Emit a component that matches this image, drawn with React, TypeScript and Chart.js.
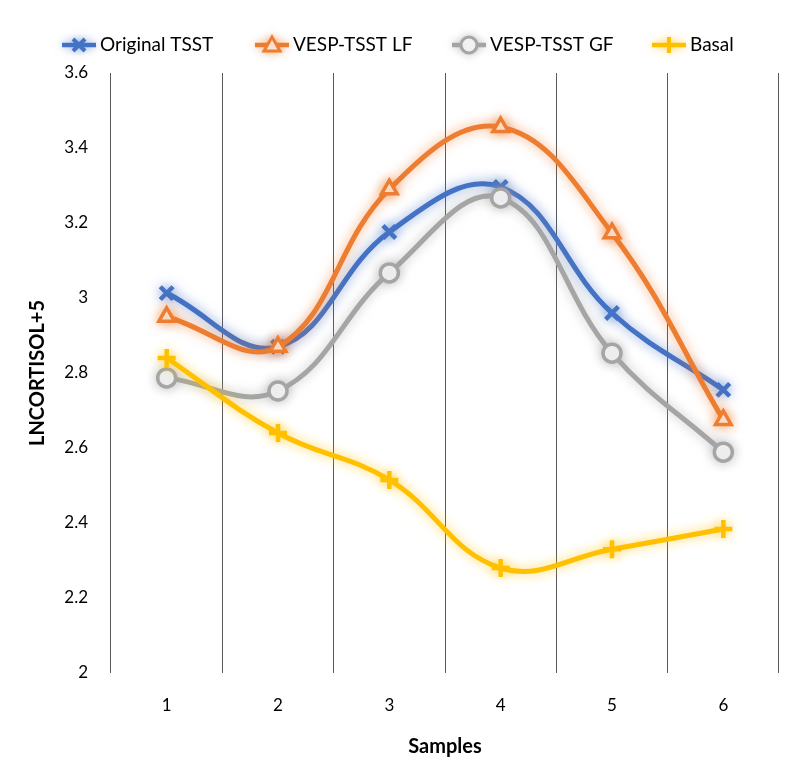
import React, { useEffect, useRef } from "react";
import { Chart, registerables } from "chart.js";

Chart.register(...registerables);

const categories = ["1", "2", "3", "4", "5", "6"];
const originalTSST = [3.013, 2.87, 3.176, 3.296, 2.96, 2.755];
const vespLF = [2.95, 2.87, 3.29, 3.456, 3.173, 2.675];
const vespGF = [2.787, 2.752, 3.067, 3.267, 2.853, 2.589];
const basal = [2.84, 2.64, 2.515, 2.28, 2.33, 2.384];
const seriesNames = ["Original TSST", "VESP-TSST LF", "VESP-TSST GF", "Basal"];
const colors = ["#4472C4", "#ED7D31", "#A5A5A5", "#FFC000"];
const pointStyles = ["crossRot", "triangle", "circle", "cross"];

const FONT = "Lato, 'Open Sans', sans-serif";

const glowPlugin = {
  id: "glow",
  beforeDatasetDraw(chart: any, args: any) {
    const ctx = chart.ctx;
    ctx.save();
    const c = colors[args.index];
    ctx.shadowColor = c + "AA";
    ctx.shadowBlur = 12;
  },
  afterDatasetDraw(chart: any) {
    chart.ctx.restore();
  },
};

function drawPoint(ctx: CanvasRenderingContext2D, style: string, x: number, y: number, r: number, color: string) {
  ctx.strokeStyle = color;
  ctx.beginPath();
  if (style === "crossRot") {
    ctx.lineWidth = 4;
    const d = r * 0.75;
    ctx.moveTo(x - d, y - d);
    ctx.lineTo(x + d, y + d);
    ctx.moveTo(x + d, y - d);
    ctx.lineTo(x - d, y + d);
    ctx.stroke();
  } else if (style === "cross") {
    ctx.lineWidth = 4;
    ctx.moveTo(x - r, y);
    ctx.lineTo(x + r, y);
    ctx.moveTo(x, y - r);
    ctx.lineTo(x, y + r);
    ctx.stroke();
  } else if (style === "triangle") {
    ctx.lineWidth = 3;
    ctx.fillStyle = "#ffffff";
    ctx.moveTo(x, y - r);
    ctx.lineTo(x + r, y + r * 0.75);
    ctx.lineTo(x - r, y + r * 0.75);
    ctx.closePath();
    ctx.fill();
    ctx.stroke();
  } else {
    ctx.lineWidth = 3;
    ctx.fillStyle = "#ffffff";
    ctx.arc(x, y, r, 0, Math.PI * 2);
    ctx.fill();
    ctx.stroke();
  }
}

const legendPlugin = {
  id: "customLegend",
  afterDraw(chart: any) {
    const ctx = chart.ctx;
    const xs = [62, 255, 452, 652];
    const y = 45;
    ctx.save();
    seriesNames.forEach((name, i) => {
      const x = xs[i];
      ctx.save();
      ctx.shadowColor = colors[i] + "88";
      ctx.shadowBlur = 8;
      ctx.strokeStyle = colors[i];
      ctx.lineWidth = 4.5;
      ctx.beginPath();
      ctx.moveTo(x, y);
      ctx.lineTo(x + 34, y);
      ctx.stroke();
      drawPoint(ctx, pointStyles[i], x + 17, y, 8, colors[i]);
      ctx.restore();
      ctx.fillStyle = "#000000";
      ctx.font = `19px ${FONT}`;
      ctx.textBaseline = "middle";
      ctx.textAlign = "left";
      ctx.fillText(name, x + 38, y);
    });
    ctx.restore();
  },
};

export default function App() {
  const ref = useRef<HTMLCanvasElement>(null);
  useEffect(() => {
    document.body.style.margin = "0";
    const data = [originalTSST, vespLF, vespGF, basal];
    const chart = new Chart(ref.current!, {
      type: "line",
      data: {
        labels: categories,
        datasets: data.map((d, i) => ({
          label: seriesNames[i],
          data: d,
          borderColor: colors[i],
          backgroundColor: i === 0 || i === 3 ? colors[i] : "#ffffff",
          borderWidth: 5,
          pointStyle: pointStyles[i] as any,
          pointRadius: 9,
          pointBorderWidth: i === 0 || i === 3 ? 4.5 : 3.5,
          pointBorderColor: colors[i],
          pointBackgroundColor: i === 0 || i === 3 ? colors[i] : "#ffffff",
          tension: 0.4,
          order: 4 - i,
          fill: false,
        })),
      },
      options: {
        responsive: false,
        animation: false,
        layout: { padding: { top: 73, right: 21, left: 0, bottom: 20 } },
        plugins: {
          legend: { display: false },
          tooltip: { enabled: false },
        },
        scales: {
          x: {
            offset: true,
            grid: { display: true, offset: true, drawTicks: false, color: "#595959", lineWidth: 1 },
            border: { display: false },
            ticks: { padding: 22, color: "#000000", font: { family: FONT, size: 17 } },
            title: {
              display: true,
              text: "Samples",
              color: "#000000",
              font: { family: FONT, size: 20, weight: "bold" },
              padding: { top: 14, bottom: 0 },
            },
            afterFit(scale: any) {
              scale.height = 86;
            },
          },
          y: {
            min: 2,
            max: 3.6,
            grid: { display: false, drawTicks: false },
            border: { display: false },
            ticks: {
              stepSize: 0.2,
              padding: 23,
              color: "#000000",
              font: { family: FONT, size: 17 },
              callback: (v: any) => String(Math.round(Number(v) * 10) / 10),
            },
            title: {
              display: true,
              text: "LNCORTISOL+5",
              color: "#000000",
              font: { family: FONT, size: 20, weight: "bold" },
              padding: { top: 26, bottom: 0 },
            },
            afterFit(scale: any) {
              scale.width = 111;
            },
          },
        },
      },
      plugins: [glowPlugin, legendPlugin],
    });
    return () => chart.destroy();
  }, []);
  return (
    <div style={{ width: 800, height: 779, background: "#ffffff" }}>
      <canvas ref={ref} width={800} height={779} style={{ display: "block" }} />
    </div>
  );
}
